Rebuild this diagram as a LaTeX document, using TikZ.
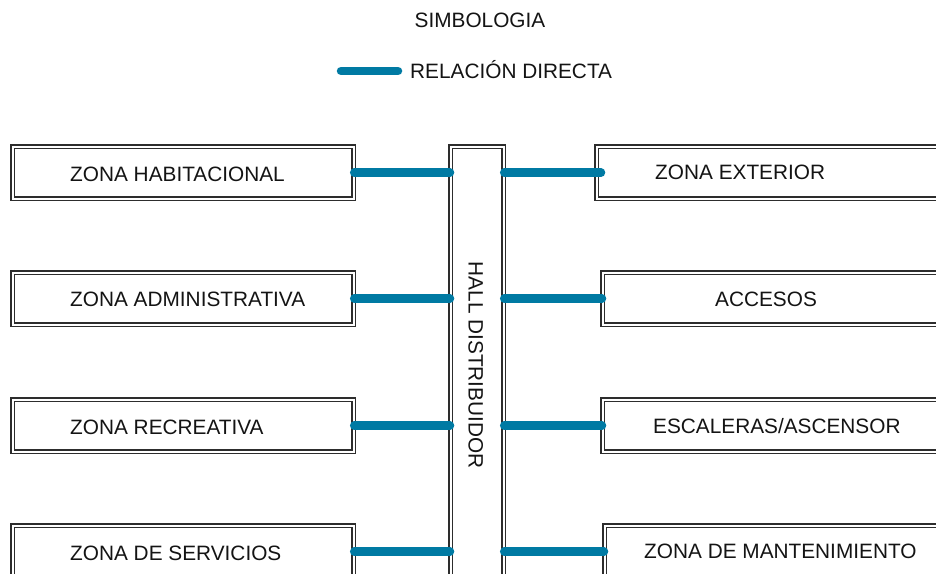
\documentclass[tikz,border=0pt]{standalone}
\usepackage{fontspec}
\setmainfont{Liberation Sans}
\definecolor{relc}{RGB}{0,122,163}
\definecolor{ink}{RGB}{20,20,20}
\definecolor{edge}{RGB}{45,45,45}
\begin{document}
\begin{tikzpicture}[x=1pt,y=-1pt,
  zbox/.style={draw=edge, line width=1.2pt, double=white, double distance=2.1pt,
    fill=white, inner sep=0pt, anchor=north west, minimum height=52pt},
  lbox/.style={zbox, minimum width=341pt},
  rbox/.style={zbox, minimum width=400pt},
  ztext/.style={text=ink, font=\fontsize{20.8}{24}\selectfont, inner sep=0pt,
    text height=14.9pt, text depth=0pt},
  rel/.style={draw=relc, line width=8.5pt, line cap=round}]
\useasboundingbox[fill=white] (0,0) rectangle (936,573);

% legend
\node[ztext] (simb) at (480,20) {SIMBOLOGIA};
\coordinate (lg1) at (341,71);
\coordinate (lg2) at (398,71);
\draw[rel] (lg1) -- (lg2);
\node[ztext, anchor=west] (lgt) at (410,71) {RELACIÓN DIRECTA};

% hall
\node[zbox, minimum width=53pt, minimum height=460pt] (hall) at (450,146) {};
\node[ztext, rotate=-90] (hallt) at (476,365) {HALL DISTRIBUIDOR};

% left boxes
\node[lbox] (l1) at (12,146) {};
\node[lbox] (l2) at (12,272) {};
\node[lbox] (l3) at (12,399) {};
\node[lbox] (l4) at (12,525) {};
\node[ztext, anchor=west] (l1t) at (70,174) {ZONA HABITACIONAL};
\node[ztext, anchor=west] (l2t) at (70,299) {ZONA ADMINISTRATIVA};
\node[ztext, anchor=west] (l3t) at (70,427) {ZONA RECREATIVA};
\node[ztext, anchor=west] (l4t) at (70,553) {ZONA DE SERVICIOS};

% right boxes
\node[rbox] (r1) at (596,146) {};
\node[rbox] (r2) at (602,272) {};
\node[rbox] (r3) at (602,399) {};
\node[rbox] (r4) at (604,525) {};
\node[ztext, anchor=west] (r1t) at (655,172.5) {ZONA EXTERIOR};
\node[ztext, anchor=west] (r2t) at (715,299) {ACCESOS};
\node[ztext, anchor=west] (r3t) at (653,426) {ESCALERAS/ASCENSOR};
\node[ztext, anchor=west] (r4t) at (644,551) {ZONA DE MANTENIMIENTO};

% connectors
\foreach \i in {1,2,3,4}{
  \draw[rel] (l\i.east) -- (l\i.east -| hall.west);
}
\draw[rel, shorten >=-5pt] (r1.west -| hall.east) -- (r1.west);
\foreach \i in {2,3,4}{
  \draw[rel] (r\i.west -| hall.east) -- (r\i.west);
}
\end{tikzpicture}
\end{document}
